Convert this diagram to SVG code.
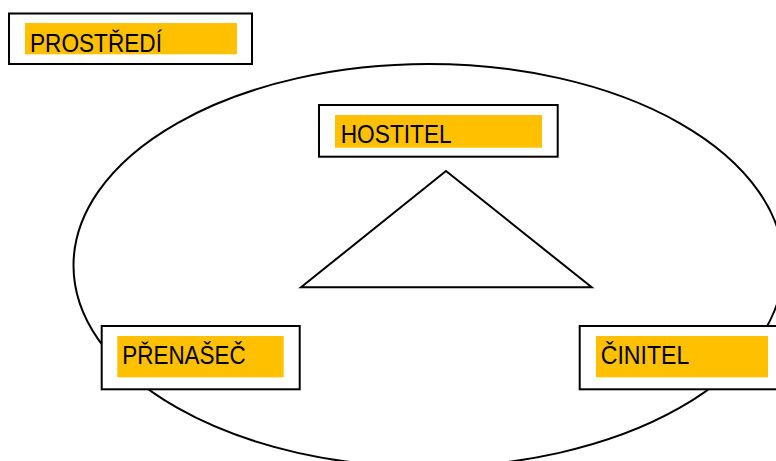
<svg xmlns="http://www.w3.org/2000/svg" width="776" height="461" viewBox="0 0 776 461">
<style>
.box{fill:#fff;stroke:#000;stroke-width:2}
.hl{fill:#FFC000}
.lbl{font-family:"Liberation Sans",Arial,sans-serif;font-size:26.5px;fill:#000}
.ln{fill:none;stroke:#000;stroke-width:2}
</style>
<rect width="776" height="461" fill="#fff"/>
<g id="connectors">
<ellipse class="ln" cx="428.5" cy="265.5" rx="355" ry="201.5"/>
<polygon class="ln" points="446,171 301,287.3 591.7,287.3" stroke-linejoin="miter"/>
</g>
<g id="prostredi">
<rect class="box" x="9" y="13.5" width="243" height="50.5"/>
<rect class="hl" x="25" y="23" width="212" height="31.3"/>
<text class="lbl" x="30" y="51.7" textLength="132" lengthAdjust="spacingAndGlyphs">PROSTŘEDÍ</text>
</g>
<g id="hostitel">
<rect class="box" x="319" y="105" width="238.7" height="51.7"/>
<rect class="hl" x="335" y="115" width="207" height="32.7"/>
<text class="lbl" x="340.7" y="142.7" textLength="111" lengthAdjust="spacingAndGlyphs">HOSTITEL</text>
</g>
<g id="prenasec">
<rect class="box" x="101.7" y="326" width="198" height="63.3"/>
<rect class="hl" x="117.3" y="336" width="166.4" height="41.3"/>
<text class="lbl" x="122.3" y="364.3" textLength="123.4" lengthAdjust="spacingAndGlyphs">PŘENAŠEČ</text>
</g>
<g id="cinitel">
<rect class="box" x="579.7" y="326" width="220" height="63.3"/>
<rect class="hl" x="596" y="336" width="172" height="41.3"/>
<text class="lbl" x="600.7" y="364.3" textLength="88.6" lengthAdjust="spacingAndGlyphs">ČINITEL</text>
</g>
</svg>
